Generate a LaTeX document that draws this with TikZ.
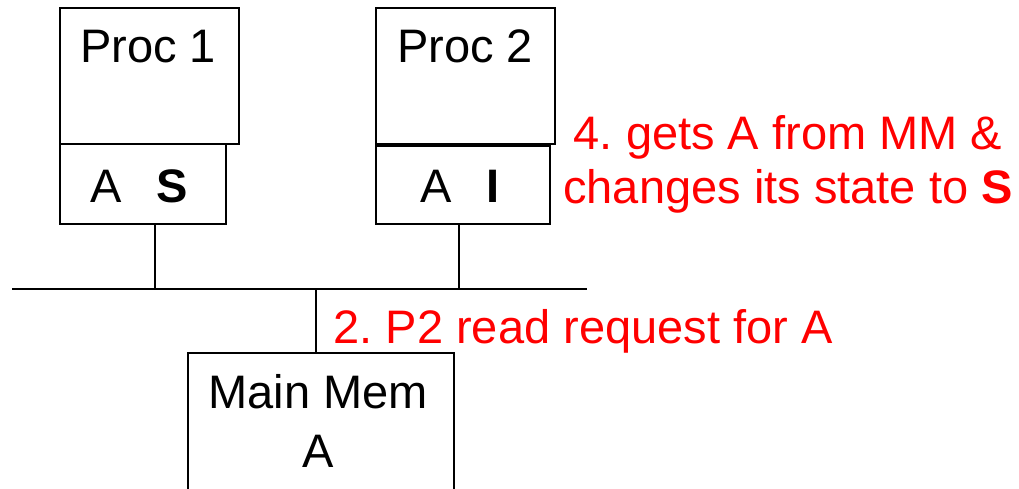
\documentclass[tikz,border=0pt]{standalone}
\usepackage{fontspec}
\setmainfont{Liberation Sans}
\frenchspacing
\begin{document}
\begin{tikzpicture}[x=1pt,y=-1pt,
  box/.style={draw=black, line width=2pt, anchor=north west, inner sep=0pt},
  lab/.style={font=\fontsize{47}{53}\selectfont, inner sep=0pt, anchor=base},
  red/.style={lab, text=red, align=center},
  wire/.style={draw=black, line width=2pt}]
\clip (0,0) rectangle (1019,489);
% processor 1
\node[box, minimum width=179pt, minimum height=136pt] (p1) at (59,7) {};
\node[box, minimum width=166pt, minimum height=80pt] (c1) at (59,143) {};
\node[lab] (p1t) at (148,63) {Proc 1};
\node[lab] (c1t) at (139,202) {A\hspace{35pt}\textbf{S}};
% processor 2
\node[box, minimum width=179pt, minimum height=136pt] (p2) at (375,7) {};
\node[box, minimum width=174pt, minimum height=78pt] (c2) at (375,145) {};
\node[lab] (p2t) at (465,63) {Proc 2};
\node[lab] (c2t) at (460,202) {A\hspace{35pt}\textbf{I}};
% bus
\coordinate (busL) at (12,289);
\coordinate (busR) at (587,289);
\draw[wire] (busL) -- (busR);
\draw[wire] (c1.south -| 155,0) -- (155,289);
\draw[wire] (c2.south -| 459,0) -- (459,289);
% main memory
\node[box, minimum width=266pt, minimum height=160pt] (mm) at (187,352) {};
\draw[wire] (316,289) -- (mm.north -| 316,0);
\node[lab, align=center] (mmt) at (318,467) {Main Mem\\[6pt]A};
% annotations
\node[red] (n4) at (788,203) {4. gets A from MM \&\\changes its state to \textbf{S}};
\node[lab, text=red] (n2) at (583,343) {2. P2 read request for A};
\end{tikzpicture}
\end{document}
